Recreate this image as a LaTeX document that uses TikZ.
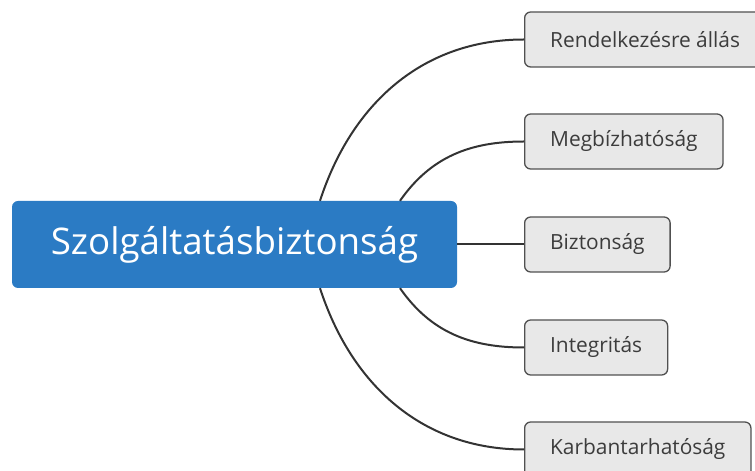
\documentclass[tikz,border=0pt]{standalone}
\usepackage{fontspec}
\setmainfont{Open Sans}
\usepackage{xcolor}
\usetikzlibrary{positioning,calc}
\definecolor{MB}{HTML}{2B7BC4}
\definecolor{BG}{HTML}{E8E8E8}
\definecolor{BD}{HTML}{505050}
\definecolor{TX}{HTML}{3C3C3C}
\definecolor{LN}{HTML}{333333}

\tikzset{
  root/.style={fill=MB, draw=none, rounded corners=6pt, text=white,
    minimum width=445, minimum height=87, inner sep=0pt,
    font=\fontsize{36.7}{40}\selectfont},
  leaf/.style={fill=BG, draw=BD, line width=1.3pt, rounded corners=6pt,
    text=TX, minimum height=55, inner xsep=25.5pt, anchor=west,
    font=\fontsize{20.9}{24}\selectfont},
  link/.style={draw=LN, line width=2pt}
}

\begin{document}
\begin{tikzpicture}[x=1pt,y=1pt]

  \useasboundingbox (0,0) rectangle (755,471);

  %% ── central topic ──
  \node[root] (svc) at (234.5,226.5) {Szolgáltatásbiztonság};

  %% ── subtopics ──
  \node[leaf] (avail) at (524,431.5) {Rendelkezésre állás};
  \node[leaf] (relia) at (524,329.5) {Megbízhatóság};
  \node[leaf] (safe)  at (524,226.5) {Biztonság};
  \node[leaf] (integ) at (524,123.5) {Integritás};
  \node[leaf] (maint) at (524,21.5)  {Karbantarhatóság};

  %% ── branches ──
  \draw[link] ([xshift=85.5]svc.north) to[out=72,in=180] (avail.west);
  \draw[link] ([xshift=165.5]svc.north) to[out=55,in=180] (relia.west);
  \draw[link] (svc.east) -- (safe.west);
  \draw[link] ([xshift=165.5]svc.south) to[out=-55,in=180] (integ.west);
  \draw[link] ([xshift=85.5]svc.south) to[out=-72,in=180] (maint.west);

\end{tikzpicture}
\end{document}
